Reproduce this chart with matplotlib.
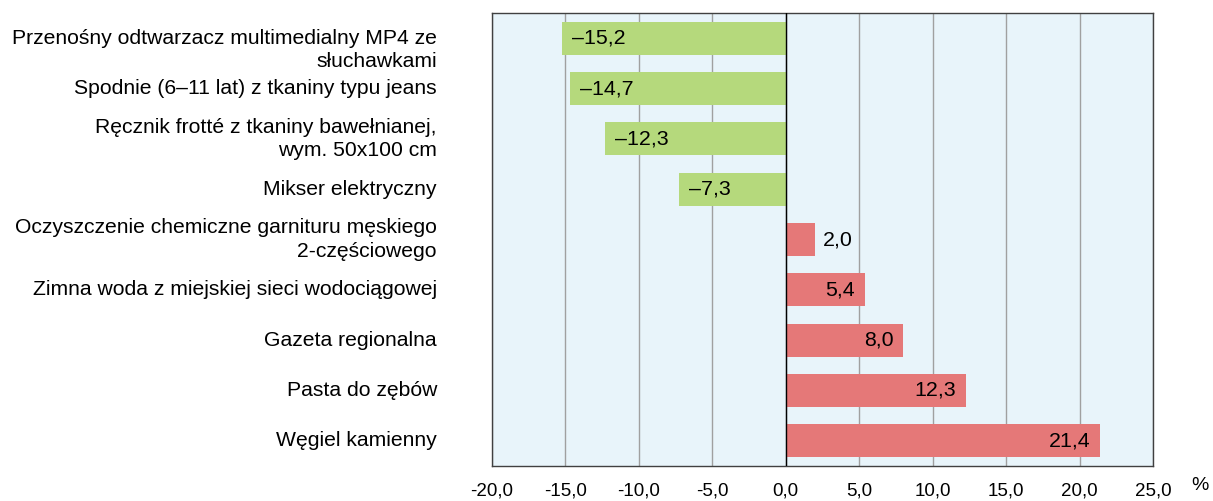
import numpy as np
import matplotlib
matplotlib.use("Agg")
import matplotlib.pyplot as plt

plt.rcParams['font.family'] = ['Liberation Sans', 'DejaVu Sans']

# dane
kategorie = [
    "Przenośny odtwarzacz multimedialny MP4 ze\nsłuchawkami",
    "Spodnie (6–11 lat) z tkaniny typu jeans",
    "Ręcznik frotté z tkaniny bawełnianej,\nwym. 50x100 cm",
    "Mikser elektryczny",
    "Oczyszczenie chemiczne garnituru męskiego\n2-częściowego",
    "Zimna woda z miejskiej sieci wodociągowej",
    "Gazeta regionalna",
    "Pasta do zębów",
    "Węgiel kamienny",
]
zmiany = [-15.2, -14.7, -12.3, -7.3, 2.0, 5.4, 8.0, 12.3, 21.4]
ticki = [-20, -15, -10, -5, 0, 5, 10, 15, 20, 25]

zielony = '#b5d97c'
czerwony = '#e57878'
tlo = '#e8f4fa'

fig = plt.figure(figsize=(12.13, 5.01), dpi=100)
ax = fig.add_axes([0.4056, 0.0699, 0.5449, 0.9041])
ax.set_facecolor(tlo)

y = np.arange(len(zmiany))
kolory = [zielony if v < 0 else czerwony for v in zmiany]
ax.barh(y, zmiany, height=0.65, color=kolory, zorder=3)

ax.set_xlim(-20, 25)
ax.set_ylim(len(zmiany) - 0.5, -0.5)
ax.set_xticks(ticks=ticki)
ax.set_xticklabels([f"{t:.1f}".replace('.', ',') for t in ticki], fontsize=13.5)
ax.tick_params(axis='x', length=0, pad=12)
ax.set_yticks([])
ax.grid(axis='x', color='#a0a0a0', linewidth=1, zorder=1)
ax.axvline(0, color='black', linewidth=1, zorder=4)
for s in ax.spines.values():
    s.set_color('#404040')
    s.set_linewidth(1)

# etykiety kategorii
for i, k in enumerate(kategorie):
    dy = -12 if i == 0 else 0
    ax.annotate(k, xy=(0, i), xycoords=('axes fraction', 'data'),
                xytext=(-55, dy), textcoords='offset pixels',
                ha='right', va='center', fontsize=15.2, linespacing=1.3)

# wartości
for i, v in enumerate(zmiany):
    txt = f"{abs(v):.1f}".replace('.', ',')
    if v < 0:
        txt = '–' + txt
        ax.annotate(txt, xy=(v, i), xytext=(10, 0), textcoords='offset pixels',
                    ha='left', va='center', fontsize=15.4, zorder=5)
    elif v < 3:
        ax.annotate(txt, xy=(v, i), xytext=(8, 0), textcoords='offset pixels',
                    ha='left', va='center', fontsize=15.4, zorder=5)
    else:
        ax.annotate(txt, xy=(v, i), xytext=(-10, 0), textcoords='offset pixels',
                    ha='right', va='center', fontsize=15.4, zorder=5)

fig.text(1200 / 1213, 1 - 485 / 501, '%', fontsize=14, ha='center', va='center')

fig.savefig('out.png', dpi=100)
